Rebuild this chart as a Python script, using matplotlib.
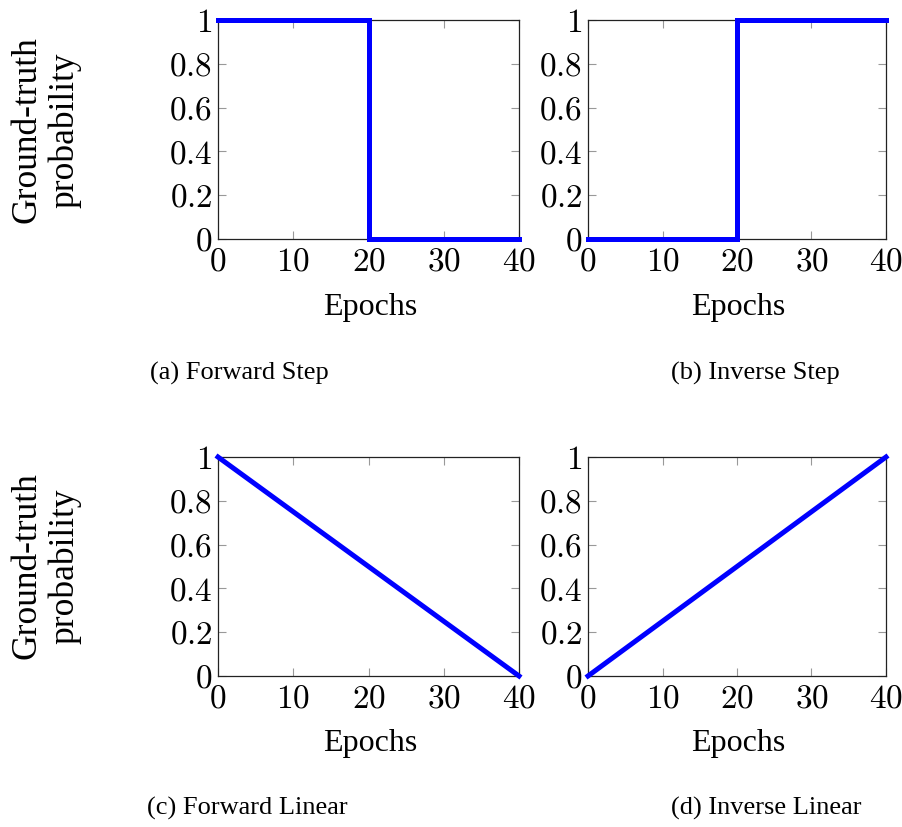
import matplotlib
matplotlib.use("Agg")
import matplotlib.pyplot as plt
from matplotlib.ticker import FuncFormatter

plt.rcParams['mathtext.fontset'] = 'cm'
plt.rcParams['font.family'] = ['Liberation Serif', 'DejaVu Serif']

step_epochs = [0, 20, 20, 40]
forward_step = [1, 1, 0, 0]
inverse_step = [0, 0, 1, 1]
linear_epochs = [0, 40]
forward_linear = [1, 0]
inverse_linear = [0, 1]

xticks = [0, 10, 20, 30, 40]
yticks = [0, 0.2, 0.4, 0.6, 0.8, 1]

panels = [
    (step_epochs, forward_step, "(a) Forward Step"),
    (step_epochs, inverse_step, "(b) Inverse Step"),
    (linear_epochs, forward_linear, "(c) Forward Linear"),
    (linear_epochs, inverse_linear, "(d) Inverse Linear"),
]

W, H = 902, 827
fig = plt.figure(figsize=(W/100, H/100), dpi=100)

boxes = [(218, 20, 519, 239), (588, 20, 886, 239),
         (218, 457, 519, 676), (588, 457, 886, 676)]
caption_pos = [(239, 373), (755, 373), (247, 808), (766, 808)]
epoch_pos = [(370, 307), (738, 307), (370, 743), (738, 743)]

def fmt(v, pos):
    if abs(v - round(v)) < 1e-9:
        return r"$%d$" % round(v)
    return r"$%g$" % v

for i, ((x, y, cap), (x0, y0, x1, y1)) in enumerate(zip(panels, boxes)):
    ax = fig.add_axes([x0/W, 1 - y1/H, (x1-x0)/W, (y1-y0)/H])
    ax.plot(x, y, color='#0000ff', lw=3.6, solid_joinstyle='miter', clip_on=False, zorder=3)
    ax.set_xlim(0, 40)
    ax.set_ylim(0, 1)
    ax.set_xticks(xticks)
    ax.set_yticks(yticks)
    ax.xaxis.set_major_formatter(FuncFormatter(fmt))
    ax.yaxis.set_major_formatter(FuncFormatter(fmt))
    ax.tick_params(direction='in', length=6, width=0.8, color='#999999',
                   labelsize=24, top=True, right=True)
    ax.tick_params(axis='x', pad=6)
    ax.tick_params(axis='y', pad=4)
    for s in ax.spines.values():
        s.set_linewidth(0.9)
        s.set_color('#222222')
    ex, ey = epoch_pos[i]
    fig.text(ex/W, 1 - ey/H, "Epochs", ha='center', va='center', fontsize=23)
    cx, cy = caption_pos[i]
    fig.text(cx/W, 1 - cy/H, cap, ha='center', va='center', fontsize=19)

for yc in (130, 566):
    fig.text(46/W, 1 - yc/H, "Ground-truth\nprobability", rotation=90,
             ha='center', va='center', fontsize=25.5, linespacing=1.15)

fig.savefig("out.png", dpi=100)
